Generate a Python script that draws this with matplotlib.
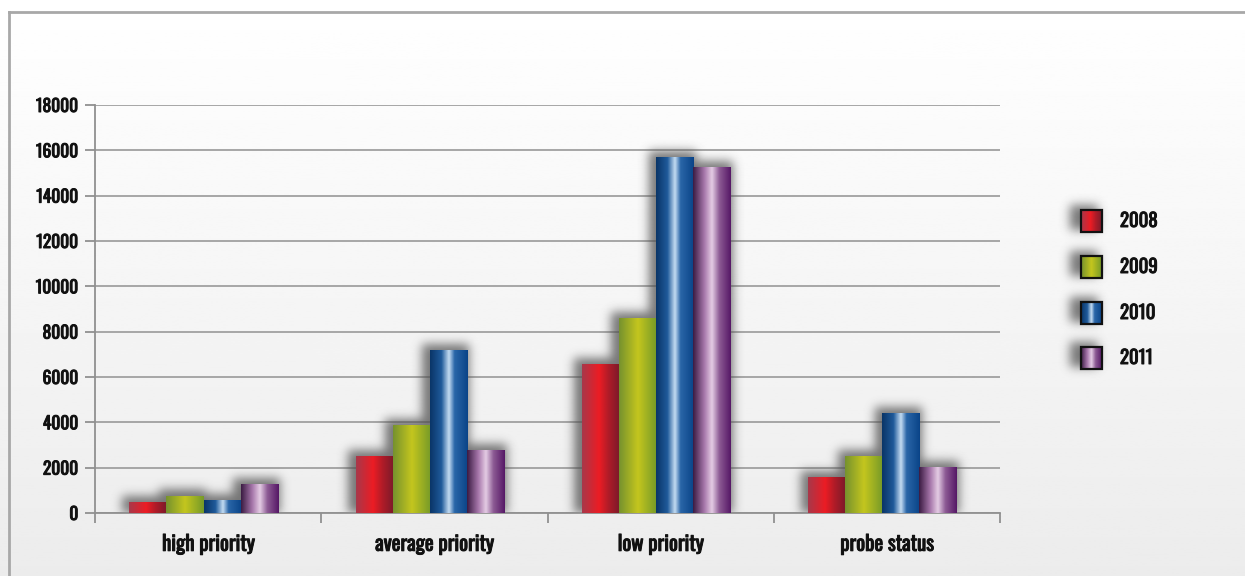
import numpy as np
import matplotlib
matplotlib.use('Agg')
import matplotlib.pyplot as plt
import matplotlib.patheffects as pe
from matplotlib.colors import to_rgb
from matplotlib.patches import Rectangle

# datos
categories = ['high priority', 'average priority', 'low priority', 'probe status']
years = ['2008', '2009', '2010', '2011']
v2008 = [480, 2510, 6530, 1550]
v2009 = [750, 3880, 8560, 2510]
v2010 = [530, 7150, 15670, 4410]
v2011 = [1240, 2740, 15230, 1990]
series = [v2008, v2009, v2010, v2011]

# degradados horizontales de cada serie (posicion, color)
stops = [
    [(0, '#a8384a'), (0.45, '#ec1c24'), (0.7, '#b01c28'), (1, '#7a1a2a')],
    [(0, '#76922e'), (0.5, '#c4c61e'), (1, '#769a28')],
    [(0, '#0a3568'), (0.3, '#1f5a9a'), (0.5, '#c4dcf2'), (0.65, '#2a66a8'), (1, '#0a4488')],
    [(0, '#3c1c44'), (0.3, '#a878ac'), (0.5, '#e4cce4'), (0.7, '#8c5a94'), (1, '#561866')],
]

def gradient(st, n=80):
    t = np.linspace(0, 1, n)
    pos = [s[0] for s in st]
    cols = np.array([to_rgb(s[1]) for s in st])
    return np.stack([np.interp(t, pos, cols[:, k]) for k in range(3)], axis=-1)[np.newaxis, :, :]

def blur(a, sigma):
    r = int(3 * sigma)
    k = np.exp(-0.5 * (np.arange(-r, r + 1) / sigma) ** 2)
    k /= k.sum()
    a = np.array([np.convolve(row, k, mode='same') for row in a])
    a = np.array([np.convolve(col, k, mode='same') for col in a.T]).T
    return a

plt.rcParams['font.family'] = ['Oswald', 'Roboto Condensed', 'Open Sans Condensed', 'DejaVu Sans']
bold = [pe.withStroke(linewidth=0.7, foreground='#111111')]
FS = 12.5
FSC = 15
FSL = 13.5

W, H = 1245, 576
fig = plt.figure(figsize=(W / 100, H / 100), dpi=100)

# fondo con degradado vertical y marco
bg = fig.add_axes([0, 0, 1, 1])
bg.axis('off')
grad_v = np.linspace(1.0, 0.925, 200)[:, None] * np.ones((1, 2))
bg.imshow(grad_v, cmap='gray', vmin=0, vmax=1, extent=(0, W, H, 0), aspect='auto', zorder=0)
bg.plot([8.5, 8.5], [H, 11.5], color='#a8a8a8', lw=2, zorder=1)
bg.plot([8.5, W], [11.5, 11.5], color='#a8a8a8', lw=2, zorder=1)

# leyenda a mano
ly = [221, 267, 313, 358]
sh = np.zeros((H, W))
for y in ly:
    sh[y - 16:y + 9, 1070:1098] = 1
sh = blur(sh, 5)
rgba = np.zeros((H, W, 4))
rgba[..., :3] = 0.3
rgba[..., 3] = sh * 0.75
bg.imshow(rgba, extent=(0, W, H, 0), aspect='auto', zorder=1)
for i, y in enumerate(ly):
    bg.imshow(gradient(stops[i]), extent=(1081, 1102, y + 11, y - 11), aspect='auto', zorder=2)
    bg.add_patch(Rectangle((1081, y - 11), 21, 22, fill=False, ec='#111111', lw=1.6, zorder=3))
    bg.text(1120, y, years[i], fontsize=FSL, va='center', ha='left', color='#111111', zorder=3,
            path_effects=bold)
bg.set_xlim(0, W)
bg.set_ylim(H, 0)

# grafico principal
x0p, x1p, y0p, y1p = 95, 1000, 513, 105
ax = fig.add_axes([x0p / W, 1 - y0p / H, (x1p - x0p) / W, (y0p - y1p) / H])
ax.set_facecolor('none')
ax.set_yticks(np.arange(0, 18001, 2000))
ax.yaxis.grid(True, color='#a0a0a0', lw=1.3)
ax.set_axisbelow(True)
ax.set_xticks(np.arange(-0.5, 3.6, 1))
ax.set_xticklabels([])
ax.set_xticks(np.arange(4), minor=True)
ax.set_xticklabels(categories, minor=True, fontsize=FSC, color='#111111')
ax.tick_params(axis='x', which='minor', length=0, pad=15)
ax.tick_params(axis='x', which='major', length=7, color='#909090', width=1.3)
ax.tick_params(axis='y', length=7, color='#909090', width=1.3, labelsize=FS, labelcolor='#111111', pad=5)
for lab in ax.get_yticklabels() + ax.get_xticklabels(minor=True):
    lab.set_path_effects(bold)
for s in ['top', 'right']:
    ax.spines[s].set_visible(False)
for s in ['left', 'bottom']:
    ax.spines[s].set_color('#909090')
    ax.spines[s].set_linewidth(1.3)

bw = 0.164
offs = (np.arange(4) - 1.5) * bw - 0.02

# sombras difusas de las barras
PW, PH, M = x1p - x0p, y0p - y1p, 40
shb = np.zeros((PH + 2 * M, PW + 2 * M))
for j, vals in enumerate(series):
    for i, v in enumerate(vals):
        a = (i + offs[j] - bw / 2 + 0.5) / 4 * PW + M
        b = (i + offs[j] + bw / 2 + 0.5) / 4 * PW + M
        t = v / 18000 * PH + M
        shb[M:int(t) + 7, int(a) - 7:int(b) + 3] = 1
shb = blur(shb, 5)
rgba = np.zeros(shb.shape + (4,))
rgba[..., :3] = 0.3
rgba[..., 3] = shb * 0.75
ax.imshow(rgba, origin='lower', aspect='auto', zorder=2,
          extent=(-0.5 - M * 4 / PW, 3.5 + M * 4 / PW, -M * 18000 / PH, 18000 + M * 18000 / PH))

for j, vals in enumerate(series):
    g = gradient(stops[j])
    for i, v in enumerate(vals):
        xl = i + offs[j] - bw / 2
        ax.imshow(g, extent=(xl, xl + bw, 0, v), aspect='auto', zorder=3, interpolation='bilinear')

ax.set_xlim(-0.5, 3.5)
ax.set_ylim(0, 18000)

fig.savefig('out.png', dpi=100)
